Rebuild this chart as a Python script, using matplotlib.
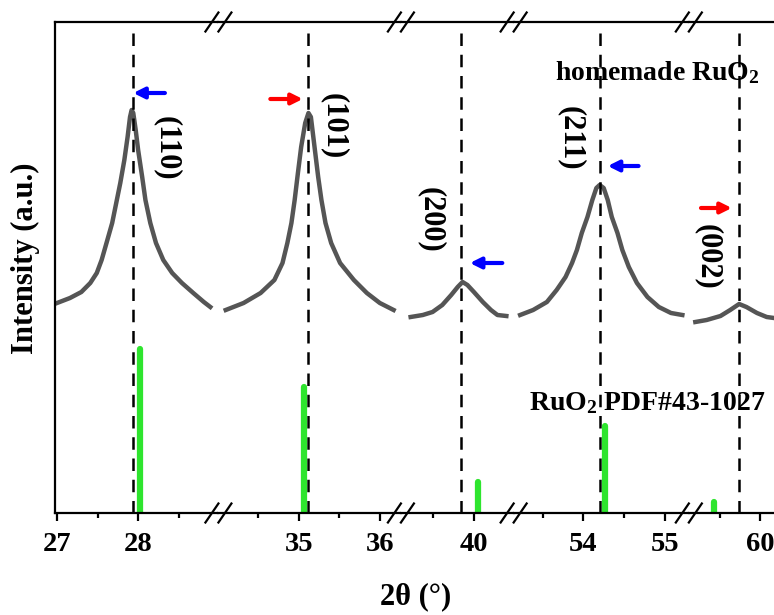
import matplotlib
matplotlib.use("Agg")
import matplotlib.pyplot as plt
from matplotlib.lines import Line2D

# XRD pattern of homemade RuO2 with broken 2theta axis and PDF#43-1027 reference lines

plt.rcParams['font.family'] = 'Liberation Serif'
plt.rcParams['font.weight'] = 'bold'
plt.rcParams['mathtext.fontset'] = 'custom'
plt.rcParams['mathtext.rm'] = 'Liberation Serif:bold'
plt.rcParams['mathtext.default'] = 'rm'

# x-axis segments of the broken axis
seg_lims = [(26.975, 28.99), (34.01, 36.26), (39.10, 40.49), (53.14, 55.30), (59.12, 60.17)]
major_ticks = [[27, 28], [35, 36], [40], [54, 55], [60]]
minor_ticks = [[27.5, 28.5], [34.5, 35.5], [39.5], [53.5, 54.5], [59.5]]

# measured pattern (2theta, intensity a.u.), one piece per segment
tt_110 = [27.00, 27.16, 27.30, 27.41, 27.49, 27.55, 27.61, 27.68, 27.73, 27.78,
          27.83, 27.87, 27.90, 27.92, 27.94, 27.97, 28.00, 28.05, 28.09, 28.15,
          28.22, 28.31, 28.42, 28.54, 28.68, 28.81, 28.89]
int_110 = [210, 215, 221, 230, 240, 253, 270, 290, 310, 330,
           353, 376, 396, 403, 400, 383, 363, 336, 313, 290,
           270, 253, 240, 230, 220, 211, 206]

tt_101 = [34.10, 34.32, 34.53, 34.70, 34.80, 34.86, 34.91, 34.95, 34.99, 35.03,
          35.08, 35.12, 35.15, 35.18, 35.21, 35.24, 35.28, 35.33, 35.40, 35.51,
          35.68, 35.84, 36.00, 36.17]
int_101 = [203, 210, 220, 233, 250, 270, 290, 313, 340, 366,
           390, 400, 396, 376, 356, 336, 313, 290, 270, 250,
           233, 220, 210, 203]

tt_200 = [39.22, 39.37, 39.49, 39.61, 39.72, 39.80, 39.86, 39.92, 40.00, 40.11,
          40.21, 40.29, 40.40]
int_200 = [196, 198, 201, 208, 218, 226, 231, 228, 221, 211, 203, 198, 197]

tt_211 = [53.22, 53.38, 53.55, 53.67, 53.78, 53.86, 53.92, 53.98, 54.05, 54.11,
          54.16, 54.20, 54.25, 54.30, 54.35, 54.42, 54.48, 54.56, 54.66, 54.79,
          54.93, 55.08, 55.22]
int_211 = [198, 203, 211, 223, 236, 250, 263, 280, 296, 313,
           325, 328, 325, 313, 296, 280, 263, 246, 230, 216,
           206, 200, 198]

tt_002 = [59.20, 59.34, 59.51, 59.63, 59.74, 59.83, 59.96, 60.08, 60.17]
int_002 = [191, 193, 197, 203, 209, 206, 200, 196, 195]

pattern = [(tt_110, int_110), (tt_101, int_101), (tt_200, int_200),
           (tt_211, int_211), (tt_002, int_002)]

# peak positions of the sample (dashed lines)
peak_pos = [27.94, 35.12, 39.84, 54.20, 59.74]

# standard card RuO2 PDF#43-1027
pdf_pos = [28.02, 35.06, 40.05, 54.27, 59.43]
pdf_int = [164, 126, 31, 87, 11]

# hkl labels and where they sit
hkl = ['(110)', '(101)', '(200)', '(211)', '(002)']
hkl_x = [28.35, 35.43, 39.47, 53.85, 59.36]
hkl_y = [365, 387, 293, 375, 256]

# shift arrows: tail, tip, height, colour
arr_tail = [28.33, 34.65, 40.35, 54.68, 59.27]
arr_tip = [27.94, 35.05, 39.95, 54.30, 59.65]
arr_y = [420, 414, 250, 347, 305]
arr_col = ['#0000ff', '#ff0000', '#0000ff', '#0000ff', '#ff0000']

fig = plt.figure(figsize=(7.74, 6.15), dpi=100)
gs = fig.add_gridspec(1, 5, left=55/774, right=1.0, bottom=1-513/615, top=1-22/615,
                      wspace=0, width_ratios=[b - a for a, b in seg_lims])
axes = [fig.add_subplot(gs[0, i]) for i in range(5)]

for i, ax in enumerate(axes):
    lo, hi = seg_lims[i]
    ax.set_xlim(lo, hi)
    ax.set_ylim(0, 491)
    ax.set_yticks([])
    ax.set_xticks(major_ticks[i])
    ax.set_xticks(minor_ticks[i], minor=True)
    ax.set_xticklabels([str(t) for t in major_ticks[i]])
    ax.tick_params(axis='x', which='major', direction='out', length=6, width=1.6,
                   labelsize=20.5, pad=8)
    ax.tick_params(axis='x', which='minor', direction='out', length=3.5, width=1.6)
    for s in ['top', 'bottom', 'left']:
        ax.spines[s].set_linewidth(1.6)
    ax.spines['right'].set_visible(False)
    if i > 0:
        ax.spines['left'].set_visible(False)

    tt, inten = pattern[i]
    ax.plot(tt, inten, color='#555555', lw=3.2, solid_joinstyle='round')

    ax.plot([peak_pos[i], peak_pos[i]], [0, 481], color='black', lw=1.8,
            linestyle=(0, (5, 3.5)))

    ax.plot([pdf_pos[i], pdf_pos[i]], [0, pdf_int[i]], color='#2ee52e', lw=4.5,
            solid_capstyle='round')

    ax.text(hkl_x[i], hkl_y[i], hkl[i], rotation=270, fontsize=22,
            ha='center', va='center')

    ax.annotate('', xy=(arr_tip[i], arr_y[i]), xytext=(arr_tail[i], arr_y[i]),
                arrowprops=dict(arrowstyle='-|>', color=arr_col[i], lw=3,
                                mutation_scale=16, shrinkA=0, shrinkB=0))

# break marks on top and bottom axis lines
y_top = 1 - 22/615
y_bot = 1 - 513/615
dx = 6.5/774
dy = 9.5/615
for ax in axes[:-1]:
    xb = ax.get_position().x1
    for yb in (y_top, y_bot):
        for off in (-dx, dx):
            fig.add_artist(Line2D([xb + off - dx, xb + off + dx], [yb - dy, yb + dy],
                                  transform=fig.transFigure, color='black', lw=1.6,
                                  zorder=10))

fig.text(760/774, 1 - 73/615, 'homemade RuO$_2$', fontsize=20, ha='right', va='center')
fig.text(765/774, 1 - 403/615, 'RuO$_2$ PDF#43-1027', fontsize=20, ha='right', va='center')

fig.text(25/774, 1 - 258/615, 'Intensity (a.u.)', fontsize=22, rotation=90,
         ha='center', va='center')
fig.text(416/774, 1 - 597/615, '2θ (°)', fontsize=22, ha='center', va='center')

fig.savefig('out.png', dpi=100)
